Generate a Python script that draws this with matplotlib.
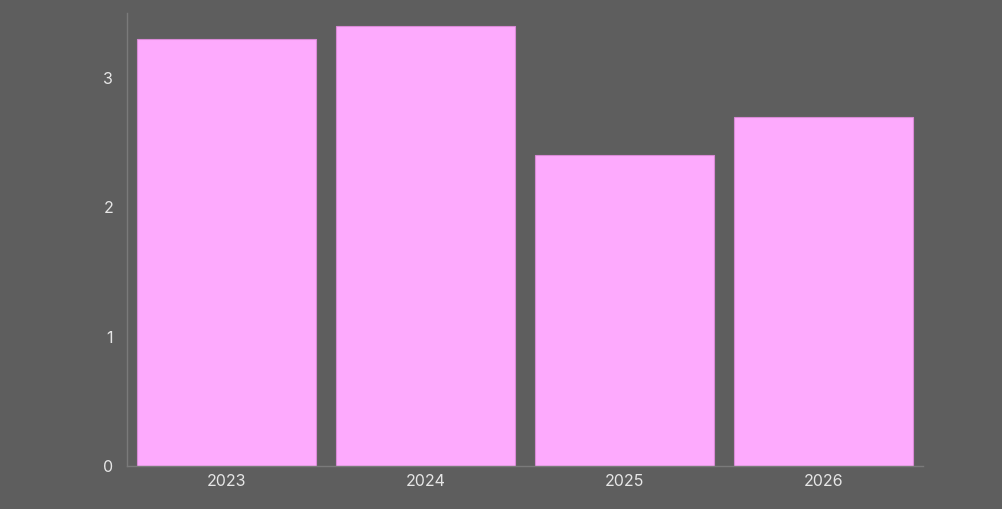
import matplotlib
matplotlib.use("Agg")
import matplotlib.pyplot as plt

categories = ["2023", "2024", "2025", "2026"]
values = [3.3, 3.4, 2.4, 2.7]
yticks = [0, 1, 2, 3]

bg = "#5e5e5e"
bar_color = "#fdaafd"
edge_color = "#d98ad6"
text_color = "#e6e6e6"
spine_color = "#7a7a7a"

plt.rcParams['font.family'] = ['Inter', 'DejaVu Sans']

W, H = 1003, 509
fig = plt.figure(figsize=(W / 100, H / 100), dpi=100, facecolor=bg)
ax = fig.add_axes([127 / W, (H - 466) / H, (923 - 127) / W, (466 - 13) / H])
ax.set_facecolor(bg)

x = list(range(len(categories)))
ax.bar(x, values, width=0.9, color=bar_color, edgecolor=edge_color, linewidth=0.8)

ax.set_xlim(-0.5, len(categories) - 0.5)
ax.set_ylim(0, 3.5)
ax.set_xticks(x)
ax.set_xticklabels(categories)
ax.set_yticks(yticks)
ax.set_yticklabels([str(v) for v in yticks])

ax.tick_params(axis='both', length=0, colors=text_color, labelsize=11.5)
ax.tick_params(axis='y', pad=10)
ax.tick_params(axis='x', pad=6)
for side in ['top', 'right']:
    ax.spines[side].set_visible(False)
for side in ['left', 'bottom']:
    ax.spines[side].set_color(spine_color)
    ax.spines[side].set_linewidth(1)

fig.savefig("out.png", dpi=100, facecolor=bg)
